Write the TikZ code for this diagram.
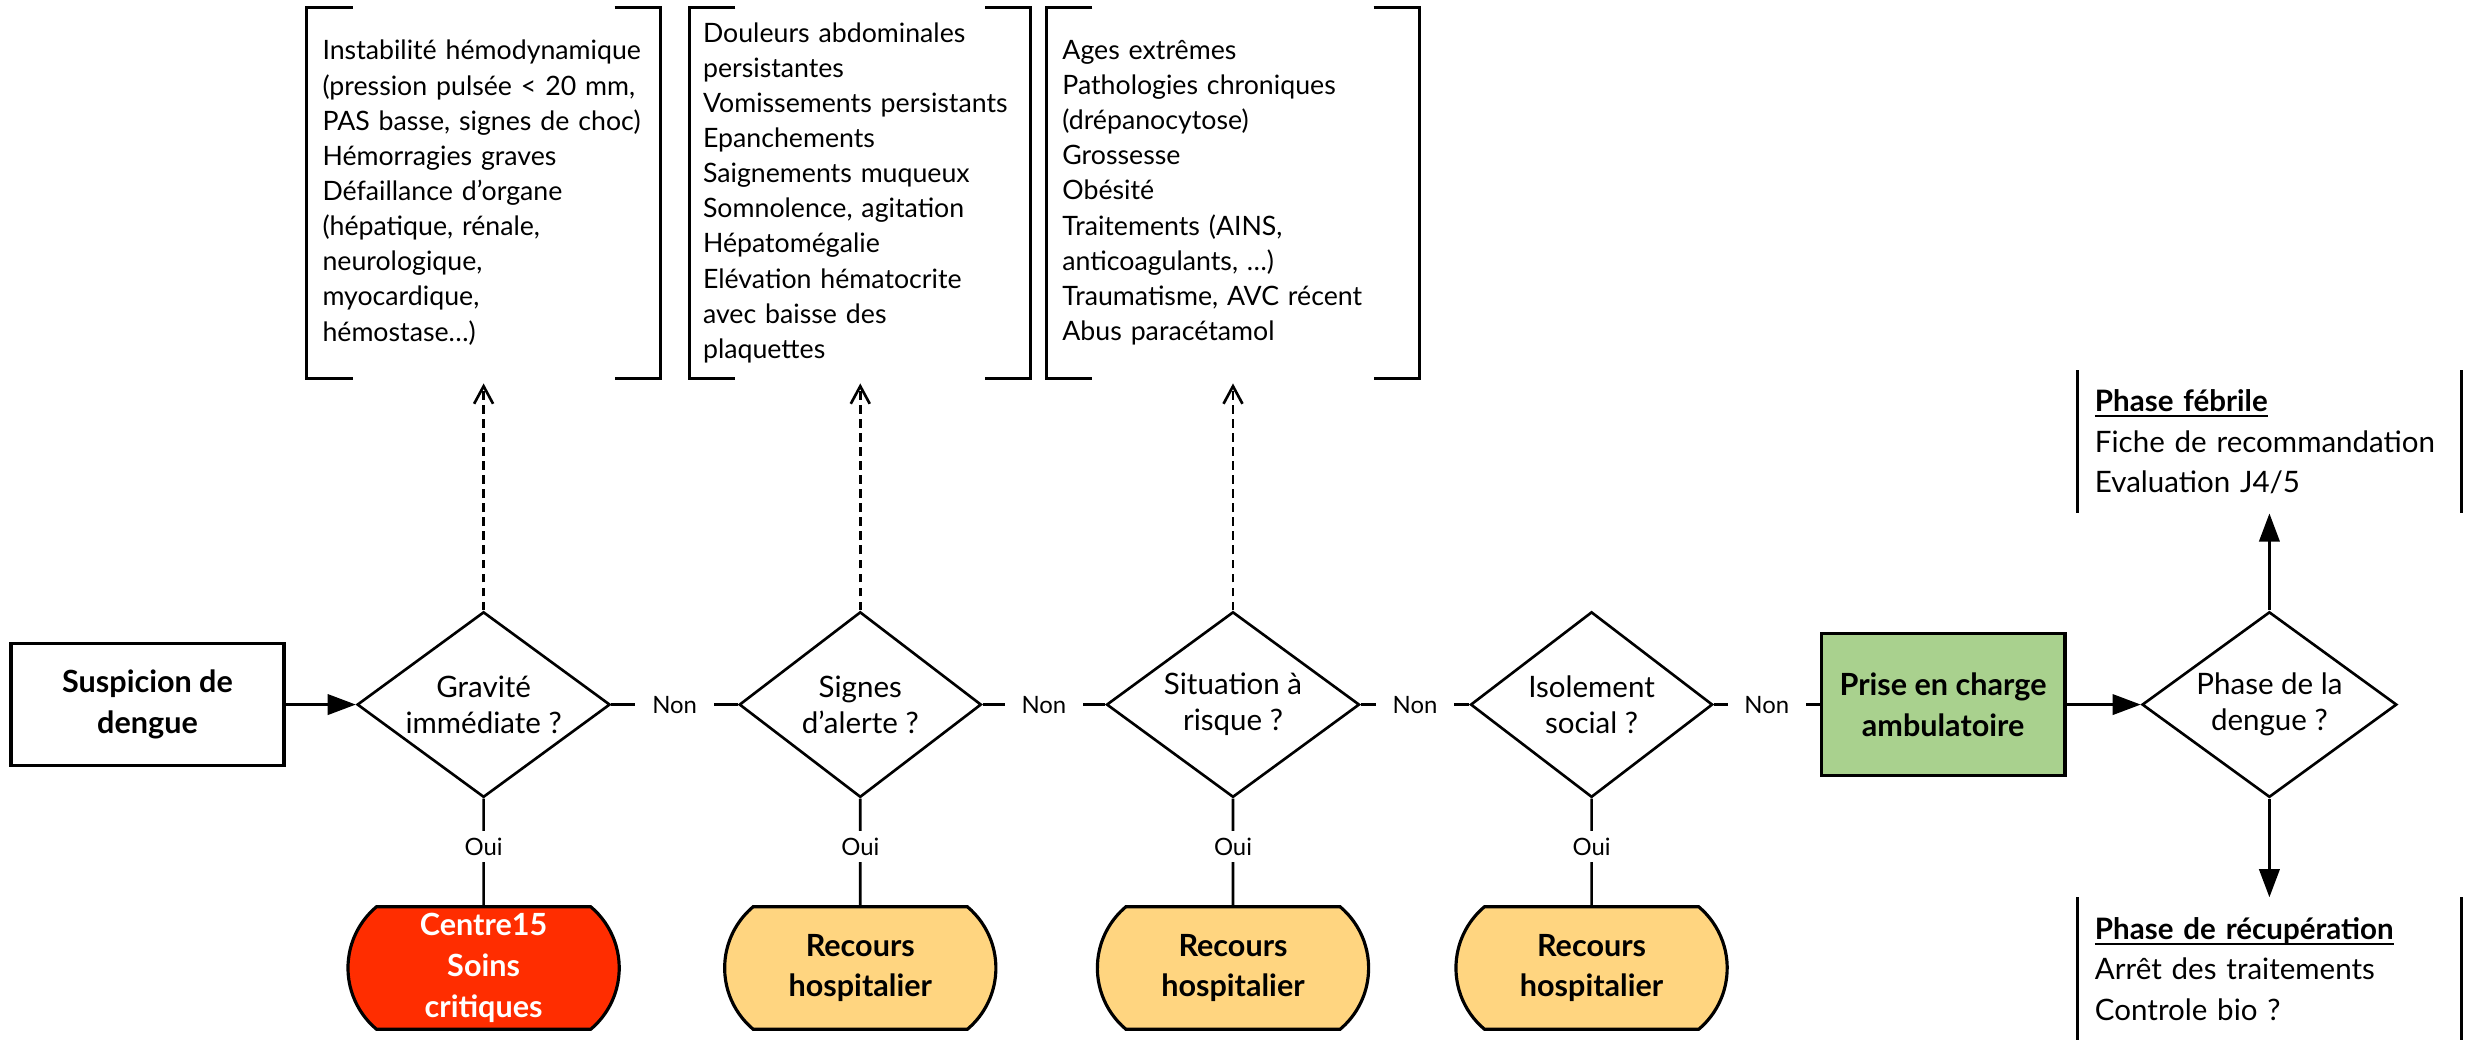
\documentclass[tikz,border=0pt]{standalone}
\usepackage{fontspec}
\setmainfont{Lato}
\usetikzlibrary{shapes.geometric, shapes.misc, arrows.meta}

\definecolor{urgence}{RGB}{255,45,0}
\definecolor{hopital}{RGB}{255,213,128}
\definecolor{ambul}{RGB}{169,209,142}

\newcommand{\souligne}[1]{\setbox0\hbox{#1}\rlap{\rule[-1.6pt]{\wd0}{0.6pt}}\box0}
\newcommand{\sanscoupure}{\hyphenpenalty 10000\relax}

\begin{document}
\begin{tikzpicture}[
    x=0.015727cm, y=-0.015727cm,
    question/.style={diamond, draw, line width=0.75pt, inner sep=0pt, aspect=1.37, minimum height=52.8pt, align=center, font=\fontsize{8.4}{10.3}\selectfont},
    etape/.style={rectangle, draw, line width=0.9pt, align=center, font=\fontsize{8.7}{11.5}\selectfont\bfseries},
    recours/.style={rounded rectangle, rounded rectangle arc length=100, draw, line width=0.9pt, fill=hopital, minimum width=77.2pt, minimum height=34.9pt, inner sep=0pt, align=center, font=\fontsize{8.7}{11.6}\selectfont\bfseries},
    criteres/.style={align=left, inner xsep=4.25pt, inner ysep=0pt, minimum height=105.2pt, font=\fontsize{7.6}{10}\selectfont},
    phase_txt/.style={align=left, text width=99.3pt, inner xsep=4.7pt, inner ysep=0pt, minimum height=40.3pt, font=\fontsize{8.4}{11.5}\selectfont},
    crochet/.style={line width=0.9pt},
    lien/.style={line width=0.75pt},
    fleche/.style={lien, -{Triangle[length=8pt, width=5.8pt]}},
    pointille/.style={lien, dash pattern=on 2.5pt off 1.5pt, shorten >=1.5pt, -{Straight Barb[length=5pt, width=5.4pt]}},
    rep/.style={fill=white, inner xsep=4.8pt, inner ysep=2pt, font=\fontsize{6.8}{8}\selectfont}
]
\useasboundingbox (0,0) rectangle (1568,663);

% --- Ligne principale ---
\node[etape, minimum width=77.7pt, minimum height=34.9pt] (susp) at (93.8,448) {Suspicion de\\dengue};
\node[question, minimum width=72pt] (grav) at (307.5,448) {Gravité\\immédiate ?};
\node[question, minimum width=68.9pt] (sign) at (547,448) {Signes\\d’alerte ?};
\node[question, minimum width=72pt] (situ) at (784,448) {Situation à\\risque ?};
\node[question, minimum width=68.9pt] (isol) at (1012,448) {Isolement\\social ?};
\node[etape, fill=ambul, minimum width=69.4pt, minimum height=40.3pt] (ambu) at (1235.5,448) {Prise en charge\\ambulatoire};
\node[question, minimum width=72.5pt] (phase) at (1443,448) {Phase de la\\dengue ?};

% --- Recours (Oui) ---
\node[recours, fill=urgence, text=white] (crit) at (307.5,615.5) {Centre15\\Soins\\critiques};
\node[recours] (hosp1) at (547,615.5) {Recours\\hospitalier};
\node[recours] (hosp2) at (784,615.5) {Recours\\hospitalier};
\node[recours] (hosp3) at (1012,615.5) {Recours\\hospitalier};

% --- Criteres ---
\node[criteres, text width=91.7pt] (crit_grav) at (307.5,122.5) {Instabilité hémodynamique\\(pression pulsée < 20 mm,\\PAS basse, signes de choc)\\Hémorragies graves\\Défaillance d’organe\\(hépatique, rénale,\\neurologique,\\myocardique,\\hémostase…)};
\node[criteres, text width=89.5pt, inner xsep=3.6pt] (crit_sign) at (547,122.5) {\sanscoupure Douleurs abdominales\\persistantes\\Vomissements persistants\\Epanchements\\Saignements muqueux\\Somnolence, agitation\\Hépatomégalie\\Elévation hématocrite\\avec baisse des\\plaquettes};
\node[criteres, text width=97.1pt] (crit_situ) at (784,122.5) {Ages extrêmes\\Pathologies chroniques\\(drépanocytose)\\Grossesse\\Obésité\\Traitements (AINS,\\anticoagulants, …)\\Traumatisme, AVC récent\\Abus paracétamol};

% Crochets
\draw[crochet] ([xshift=13pt]crit_grav.north west) -- (crit_grav.north west) -- (crit_grav.south west) -- ([xshift=13pt]crit_grav.south west);
\draw[crochet] ([xshift=-13pt]crit_grav.north east) -- (crit_grav.north east) -- (crit_grav.south east) -- ([xshift=-13pt]crit_grav.south east);
\draw[crochet] ([xshift=13pt]crit_sign.north west) -- (crit_sign.north west) -- (crit_sign.south west) -- ([xshift=13pt]crit_sign.south west);
\draw[crochet] ([xshift=-13pt]crit_sign.north east) -- (crit_sign.north east) -- (crit_sign.south east) -- ([xshift=-13pt]crit_sign.south east);
\draw[crochet] ([xshift=13pt]crit_situ.north west) -- (crit_situ.north west) -- (crit_situ.south west) -- ([xshift=13pt]crit_situ.south west);
\draw[crochet] ([xshift=-13pt]crit_situ.north east) -- (crit_situ.north east) -- (crit_situ.south east) -- ([xshift=-13pt]crit_situ.south east);

% --- Phases ---
\node[phase_txt] (febrile) at (1443,281) {\textbf{\souligne{Phase fébrile}}\\Fiche de recommandation\\Evaluation J4/5};
\node[phase_txt] (recup) at (1443,616) {\textbf{\souligne{Phase de récupération}}\\Arrêt des traitements\\Controle bio ?};
\draw[crochet] (febrile.north west) -- (febrile.south west) (febrile.north east) -- (febrile.south east);
\draw[crochet] (recup.north west) -- (recup.south west) (recup.north east) -- (recup.south east);

% --- Liens ---
\draw[fleche] (susp) -- (grav);
\draw[lien] (grav) -- node[rep] {Non} (sign);
\draw[lien] (sign) -- node[rep] {Non} (situ);
\draw[lien] (situ) -- node[rep] {Non} (isol);
\draw[lien] (isol) -- node[rep] {Non} (ambu);
\draw[fleche] (ambu) -- (phase);
\draw[fleche] (phase) -- (febrile);
\draw[fleche] (phase) -- (recup);

\draw[lien] (grav) -- node[rep, pos=0.45] {Oui} (crit);
\draw[lien] (sign) -- node[rep, pos=0.45] {Oui} (hosp1);
\draw[lien] (situ) -- node[rep, pos=0.45] {Oui} (hosp2);
\draw[lien] (isol) -- node[rep, pos=0.45] {Oui} (hosp3);

\draw[pointille] (grav) -- (crit_grav);
\draw[pointille] (sign) -- (crit_sign);
\draw[pointille] (situ) -- (crit_situ);

\end{tikzpicture}
\end{document}
